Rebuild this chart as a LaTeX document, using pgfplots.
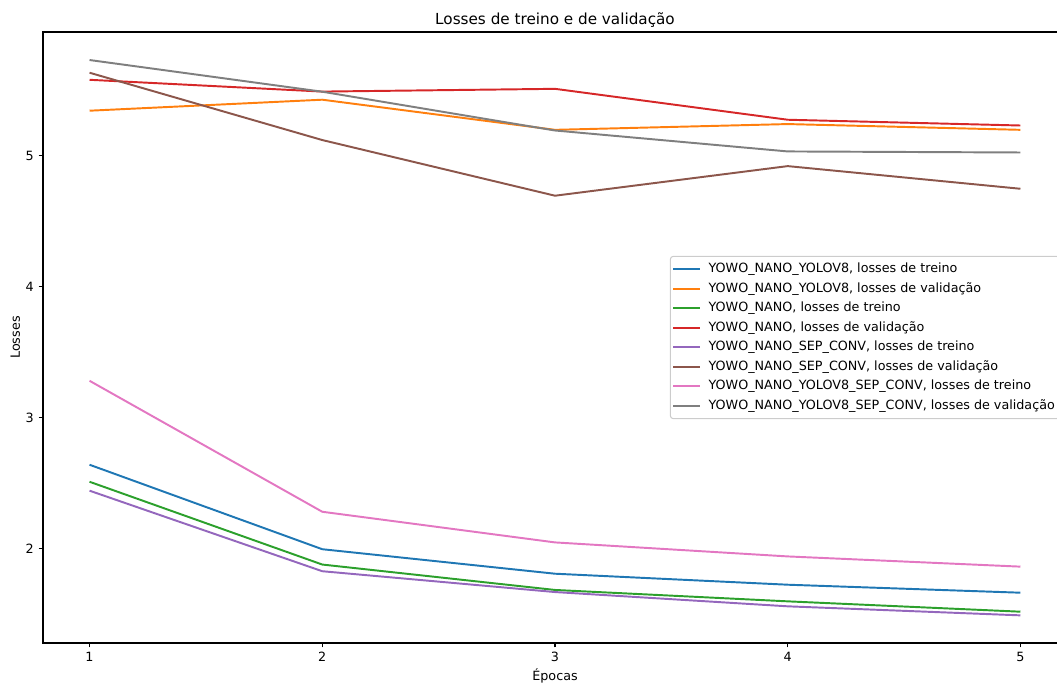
\documentclass[border=0pt]{standalone}
\usepackage{fontspec}
\setmainfont{DejaVu Sans}
\usepackage{pgfplots}
\pgfplotsset{compat=1.18}
\usepackage{pgfplotstable}

\definecolor{c0}{HTML}{1F77B4}
\definecolor{c1}{HTML}{FF7F0E}
\definecolor{c2}{HTML}{2CA02C}
\definecolor{c3}{HTML}{D62728}
\definecolor{c4}{HTML}{9467BD}
\definecolor{c5}{HTML}{8C564B}
\definecolor{c6}{HTML}{E377C2}
\definecolor{c7}{HTML}{7F7F7F}

\pgfplotstableread{
x  yv8tr  yv8val  ntr    nval   sctr   scval  yscTr  yscVal
1  2.641  5.344   2.511  5.580  2.443  5.634  3.282  5.731
2  1.996  5.428   1.879  5.490  1.828  5.120  2.282  5.489
3  1.809  5.198   1.685  5.511  1.669  4.695  2.048  5.193
4  1.725  5.242   1.598  5.275  1.560  4.921  1.941  5.033
5  1.664  5.198   1.519  5.231  1.491  4.748  1.863  5.025
}\losses

\begin{document}
\begin{tikzpicture}
\begin{axis}[
  name=ax,
  scale only axis,
  width=737.28bp, height=439.92bp,
  xmin=0.8, xmax=5.2, ymin=1.28, ymax=5.945,
  xtick={1,2,3,4,5}, ytick={2,3,4,5},
  tick pos=left, tick align=outside,
  major tick length=3.2bp,
  tick style={line width=0.75bp, black},
  axis line style={line width=0.75bp, black},
  /pgf/number format/assume math mode=true,
  ticklabel style={font=\fontsize{9.2}{11}\selectfont},
  title={Losses de treino e de validação},
  title style={font=\fontsize{11}{13}\selectfont, at={(0.5,1)}, anchor=base, yshift=-0.7bp},
  xlabel={Épocas}, ylabel={Losses},
  label style={font=\fontsize{9.2}{11}\selectfont},
  xlabel style={at={(rel axis cs:0.5,0)}, anchor=base, yshift=-27bp},
  ylabel style={at={(rel axis cs:-0.02246,0.5)}, rotate=0, anchor=base},
  every axis plot/.append style={line width=1.4bp, line join=round},
  legend cell align=left,
  legend image code/.code={\draw[#1] (0bp,0bp) -- (19.2bp,0bp);},
  legend style={at={(0.993,0.5)}, anchor=east,
    draw=black!20, line width=0.75bp, rounded corners=2bp, fill=white, fill opacity=0.8, text opacity=1,
    font=\fontsize{9.2}{11}\selectfont,
    inner xsep=1.2bp, inner ysep=2bp, row sep=0pt, column sep=3.7bp,
    nodes={inner xsep=2bp, inner ysep=2.2bp, text height=7.4bp, text depth=2.3bp}},
]
\addplot[c0] table[x=x, y=yv8tr] {\losses};
\addlegendentry{YOWO\_NANO\_YOLOV8, losses de treino}
\addplot[c1] table[x=x, y=yv8val] {\losses};
\addlegendentry{YOWO\_NANO\_YOLOV8, losses de validação}
\addplot[c2] table[x=x, y=ntr] {\losses};
\addlegendentry{YOWO\_NANO, losses de treino}
\addplot[c3] table[x=x, y=nval] {\losses};
\addlegendentry{YOWO\_NANO, losses de validação}
\addplot[c4] table[x=x, y=sctr] {\losses};
\addlegendentry{YOWO\_NANO\_SEP\_CONV, losses de treino}
\addplot[c5] table[x=x, y=scval] {\losses};
\addlegendentry{YOWO\_NANO\_SEP\_CONV, losses de validação}
\addplot[c6] table[x=x, y=yscTr] {\losses};
\addlegendentry{YOWO\_NANO\_YOLOV8\_SEP\_CONV, losses de treino}
\addplot[c7] table[x=x, y=yscVal] {\losses};
\addlegendentry{YOWO\_NANO\_YOLOV8\_SEP\_CONV, losses de validação}
\end{axis}
\pgfresetboundingbox
\path[use as bounding box] ([xshift=-30.96bp,yshift=-29.52bp]ax.south west) rectangle ([xshift=-7.2bp,yshift=23.04bp]ax.north east);
\end{tikzpicture}
\end{document}
